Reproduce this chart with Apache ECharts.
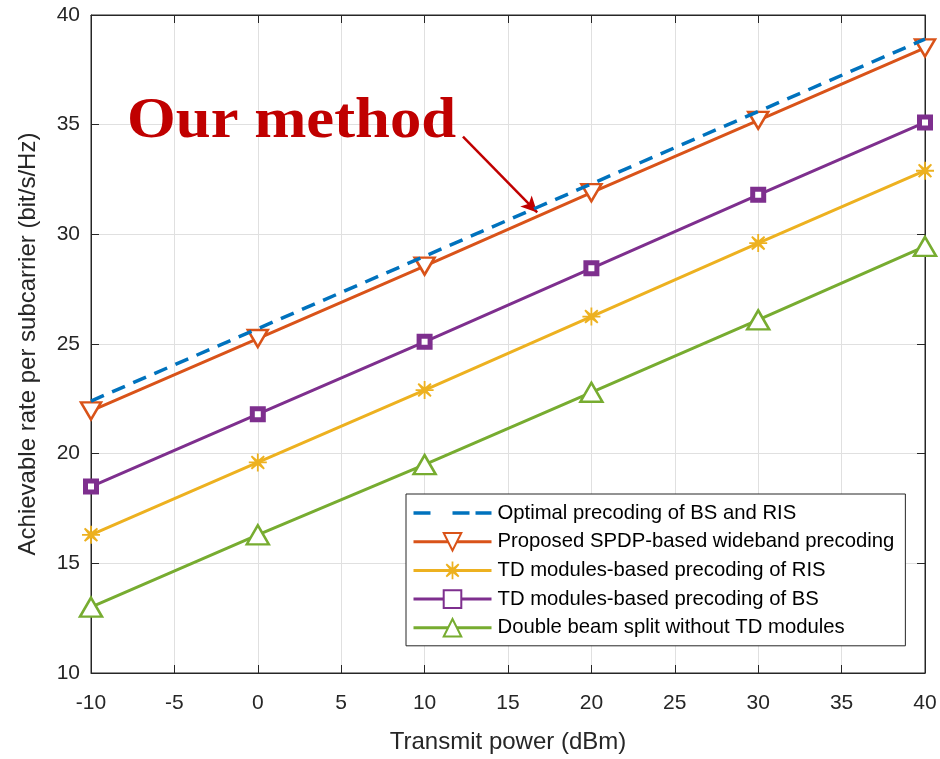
<!DOCTYPE html>
<html><head><meta charset="utf-8">
<script src="https://cdn.jsdelivr.net/npm/echarts@6/dist/echarts.min.js"></script>
<style>html,body{margin:0;padding:0;background:#fff}#c{width:940px;height:759px}</style>
</head><body><div id="c"></div>
<script>
const xVals = [-10, 0, 10, 20, 30, 40];
const seriesNames = [
  'Optimal precoding of BS and RIS',
  'Proposed SPDP-based wideband precoding',
  'TD modules-based precoding of RIS',
  'TD modules-based precoding of BS',
  'Double beam split without TD modules'
];
const optimal = [22.4, 25.7, 29.0, 32.3, 35.6, 38.9];
const proposed = [21.95, 25.25, 28.55, 31.9, 35.2, 38.5];
const tdRIS = [16.3, 19.6, 22.9, 26.25, 29.6, 32.9];
const tdBS = [18.5, 21.8, 25.1, 28.45, 31.8, 35.1];
const doubleSplit = [13.0, 16.3, 19.5, 22.8, 26.1, 29.45];
const arrowStart = [12.3, 34.45];
const arrowEnd = [16.75, 31.0];

const pair = arr => xVals.map((x, i) => [x, arr[i]]);
const asterisk = 'path://M9,0 L11,0 L11,6.6 L16.4,2.2 L17.8,3.6 L13.4,9 L20,9 L20,11 L13.4,11 L17.8,16.4 L16.4,17.8 L11,13.4 L11,20 L9,20 L9,13.4 L3.6,17.8 L2.2,16.4 L6.6,11 L0,11 L0,9 L6.6,9 L2.2,3.6 L3.6,2.2 L9,6.6 Z';
const dashIcon = 'path://M0,0H17V3.5H0Z M39,0H56V3.5H39Z M62,0H78V3.5H62Z';

const chart = echarts.init(document.getElementById('c'));
const tickFont = {fontFamily: 'Liberation Sans, Arial, sans-serif', fontSize: 21, color: '#262626'};
chart.setOption({
  animation: false,
  grid: {left: 91, right: 15, top: 15, bottom: 84, show: true, borderColor: '#262626', borderWidth: 1},
  xAxis: [{
    type: 'value', min: -10, max: 40, interval: 5,
    name: 'Transmit power (dBm)', nameLocation: 'middle', nameGap: 57,
    nameTextStyle: {fontFamily: 'Liberation Sans, Arial, sans-serif', fontSize: 24, color: '#262626'},
    axisLine: {onZero: false, lineStyle: {color: '#262626'}},
    axisTick: {inside: true, length: 8, lineStyle: {color: '#262626'}},
    axisLabel: Object.assign({margin: 20}, tickFont),
    splitLine: {show: true, lineStyle: {color: '#e0e0e0', width: 1}}
  }, {
    type: 'value', min: -10, max: 40, interval: 5, position: 'top',
    axisLine: {show: true, onZero: false, lineStyle: {color: '#262626'}},
    axisTick: {inside: true, length: 8, lineStyle: {color: '#262626'}},
    axisLabel: {show: false}, splitLine: {show: false}
  }],
  yAxis: [{
    type: 'value', min: 10, max: 40, interval: 5,
    name: 'Achievable rate per subcarrier (bit/s/Hz)', nameLocation: 'middle', nameGap: 51,
    nameTextStyle: {fontFamily: 'Liberation Sans, Arial, sans-serif', fontSize: 24, color: '#262626'},
    axisLine: {show: true, onZero: false, lineStyle: {color: '#262626'}},
    axisTick: {show: true, inside: true, length: 8, lineStyle: {color: '#262626'}},
    axisLabel: Object.assign({margin: 11}, tickFont),
    splitLine: {show: true, lineStyle: {color: '#e0e0e0', width: 1}}
  }, {
    type: 'value', min: 10, max: 40, interval: 5, position: 'right',
    axisLine: {show: true, onZero: false, lineStyle: {color: '#262626'}},
    axisTick: {show: true, inside: true, length: 8, lineStyle: {color: '#262626'}},
    axisLabel: {show: false}, splitLine: {show: false}
  }],
  legend: {
    orient: 'vertical', left: 406, top: 494, itemWidth: 78, itemHeight: 22, itemGap: 8.7,
    padding: [9, 11, 8, 6],
    backgroundColor: '#fff', borderColor: '#262626', borderWidth: 1,
    lineStyle: {width: 3},
    symbolKeepAspect: true,
    textStyle: {fontFamily: 'Liberation Sans, Arial, sans-serif', fontSize: 20.3, color: '#000', padding: [0, 0, 0, 1]},
    data: [{name: seriesNames[0], icon: dashIcon}, seriesNames[1], seriesNames[2], seriesNames[3], seriesNames[4]]
  },
  graphic: [{
    type: 'text', left: 127, top: 94, scaleX: 1.1, z: 100,
    style: {text: 'Our method', font: 'bold 57px "Liberation Serif", "Times New Roman", serif', fill: '#C00000'}
  }],
  series: [
    {name: seriesNames[0], type: 'line', data: pair(optimal), symbol: 'none', z: 5,
     lineStyle: {color: '#0072BD', width: 3.5, type: [14, 9]}, itemStyle: {color: '#0072BD'}},
    {name: seriesNames[1], type: 'line', data: pair(proposed), symbol: 'triangle', symbolRotate: 180, symbolSize: [20, 17],
     lineStyle: {color: '#D95319', width: 3}, itemStyle: {color: '#fff', borderColor: '#D95319', borderWidth: 2.5},
     markLine: {silent: true, symbol: ['none', 'arrow'], symbolSize: [12, 16], label: {show: false},
       lineStyle: {color: '#C00000', width: 2.5, type: 'solid'},
       data: [[{coord: arrowStart}, {coord: arrowEnd}]]}},
    {name: seriesNames[2], type: 'line', data: pair(tdRIS), symbol: asterisk, symbolSize: 18,
     lineStyle: {color: '#EDB120', width: 3}, itemStyle: {color: '#EDB120'}},
    {name: seriesNames[3], type: 'line', data: pair(tdBS), symbol: 'rect', symbolSize: 11,
     lineStyle: {color: '#7E2F8E', width: 3}, itemStyle: {color: '#fff', borderColor: '#7E2F8E', borderWidth: 5}},
    {name: seriesNames[4], type: 'line', data: pair(doubleSplit), symbol: 'triangle', symbolSize: [22, 19],
     lineStyle: {color: '#77AC30', width: 3}, itemStyle: {color: '#fff', borderColor: '#77AC30', borderWidth: 2.5}}
  ]
});
</script></body></html>
